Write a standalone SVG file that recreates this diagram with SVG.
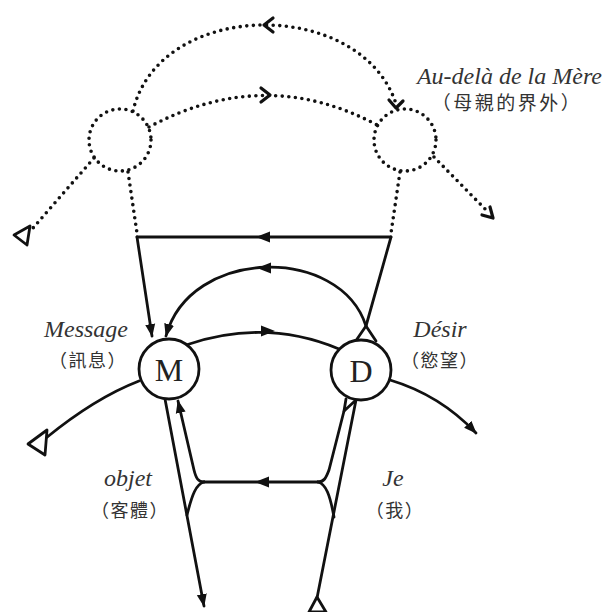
<svg xmlns="http://www.w3.org/2000/svg" width="604" height="612" viewBox="0 0 604 612">
<style>
.dot{fill:none;stroke:#111;stroke-width:3.6;stroke-linecap:round;stroke-dasharray:0 6.6}
.sol{fill:none;stroke:#111;stroke-width:2.8;stroke-linecap:round;stroke-linejoin:round}
.chev{fill:none;stroke:#111;stroke-width:3.2;stroke-linecap:round;stroke-linejoin:round}
.open{fill:#fff;stroke:#111;stroke-width:2.8;stroke-linejoin:round}
.node{fill:#fff;stroke:#111;stroke-width:2.8}
.lat{font-family:"Liberation Serif",serif;font-style:italic;font-size:24px;fill:#333}
.cjk{font-family:"Noto Sans CJK TC","Noto Sans CJK SC",sans-serif;font-size:18px;letter-spacing:1.5px;fill:#333;text-anchor:middle}
.letter{font-family:"Liberation Serif",serif;font-size:32px;fill:#222;text-anchor:middle}
</style>
<defs>
<marker id="ah" markerUnits="userSpaceOnUse" markerWidth="14" markerHeight="12" refX="12" refY="6" orient="auto"><path d="M0,1 L13,6 L0,11 z" fill="#111"/></marker>
<path id="tri" d="M-7,-5.5 L7,0 L-7,5.5 z" fill="#111"/>
</defs>
<rect width="604" height="612" fill="#fff"/>
<g id="connectors">
  <!-- dotted upper structure -->
  <path class="dot" d="M133,111 C160,-3 365,-3 397,107"/>
  <path class="chev" d="M389,100 L396,108 L403,101"/>
  <path class="chev" d="M273,18 L264,25 L273,32"/>
  <path class="dot" d="M149,127 Q265,65 377,125"/>
  <path class="chev" d="M261,88 L270,95 L261,102"/>
  <path class="dot" d="M94,158 L33,228"/>
  <polygon class="open" points="14,235 30,226 27,245"/>
  <path class="dot" d="M434,157 L488,212"/>
  <path class="chev" d="M482,215 L493,218 L490,207"/>
  <path class="dot" d="M128,172 L137,233"/>
  <path class="dot" d="M400,172 L391,233"/>
  <!-- solid upper -->
  <path class="sol" d="M391,237 L137,237"/>
  <use href="#tri" transform="translate(263,237) rotate(180)"/>
  <path class="sol" d="M137,237 L152,336" marker-end="url(#ah)"/>
  <path class="sol" d="M391,237 L366,326 L355,342"/>
  <path class="sol" d="M366,326 C340,245 190,247 166,336" marker-end="url(#ah)"/>
  <path class="sol" d="M366,326 L376,341"/>
  <use href="#tri" transform="translate(264,268) rotate(180)"/>
  <path class="sol" d="M186,345 Q265,318 339,349"/>
  <use href="#tri" transform="translate(268,331)"/>
  <path class="sol" d="M139,381 Q95,398 46,438"/>
  <polygon class="open" points="28,444 47,430 45,455"/>
  <path class="sol" d="M390,380 Q440,395 476,433" marker-end="url(#ah)"/>
  <!-- lower structure -->
  <path class="sol" d="M165,399 L204,606" marker-end="url(#ah)"/>
  <path class="sol" d="M204,482 C198,482 196,478 194,470 L178,401" marker-end="url(#ah)"/>
  <path class="sol" d="M318,482 L204,482"/>
  <use href="#tri" transform="translate(262,482) rotate(180)"/>
  <path class="sol" d="M204,482 C196,484 192,495 187,515"/>
  <path class="sol" d="M318,482 C324,482 326,478 329,470 L344,411 L346,399"/>
  <path class="sol" d="M344,411 L356,400"/>
  <path class="sol" d="M318,482 C326,484 330,495 334,517"/>
  <path class="sol" d="M356,400 L317,598"/>
  <polygon class="open" points="317,597 309,612 326,612"/>
</g>
<g id="node-circle-left"><circle class="dot" cx="120" cy="140" r="31"/></g>
<g id="node-circle-right"><circle class="dot" cx="405" cy="140" r="31"/></g>
<g id="node-M"><circle class="node" cx="169" cy="369" r="30"/><text class="letter" x="169" y="381">M</text></g>
<g id="node-D"><circle class="node" cx="361" cy="370" r="30"/><text class="letter" x="361" y="382">D</text></g>
<g id="label-audela"><text class="lat" x="602" y="84" text-anchor="end">Au-delà de la Mère</text><text class="cjk" x="507" y="110" style="font-size:19px;letter-spacing:2.5px">（母親的界外）</text></g>
<g id="label-message"><text class="lat" x="86" y="337" text-anchor="middle">Message</text><text class="cjk" x="88" y="367">（訊息）</text></g>
<g id="label-desir"><text class="lat" x="440" y="337" text-anchor="middle">Désir</text><text class="cjk" x="440" y="367">（慾望）</text></g>
<g id="label-objet"><text class="lat" x="128" y="486" text-anchor="middle">objet</text><text class="cjk" x="130" y="517">（客體）</text></g>
<g id="label-je"><text class="lat" x="393" y="486" text-anchor="middle">Je</text><text class="cjk" x="395" y="517">（我）</text></g>
</svg>
